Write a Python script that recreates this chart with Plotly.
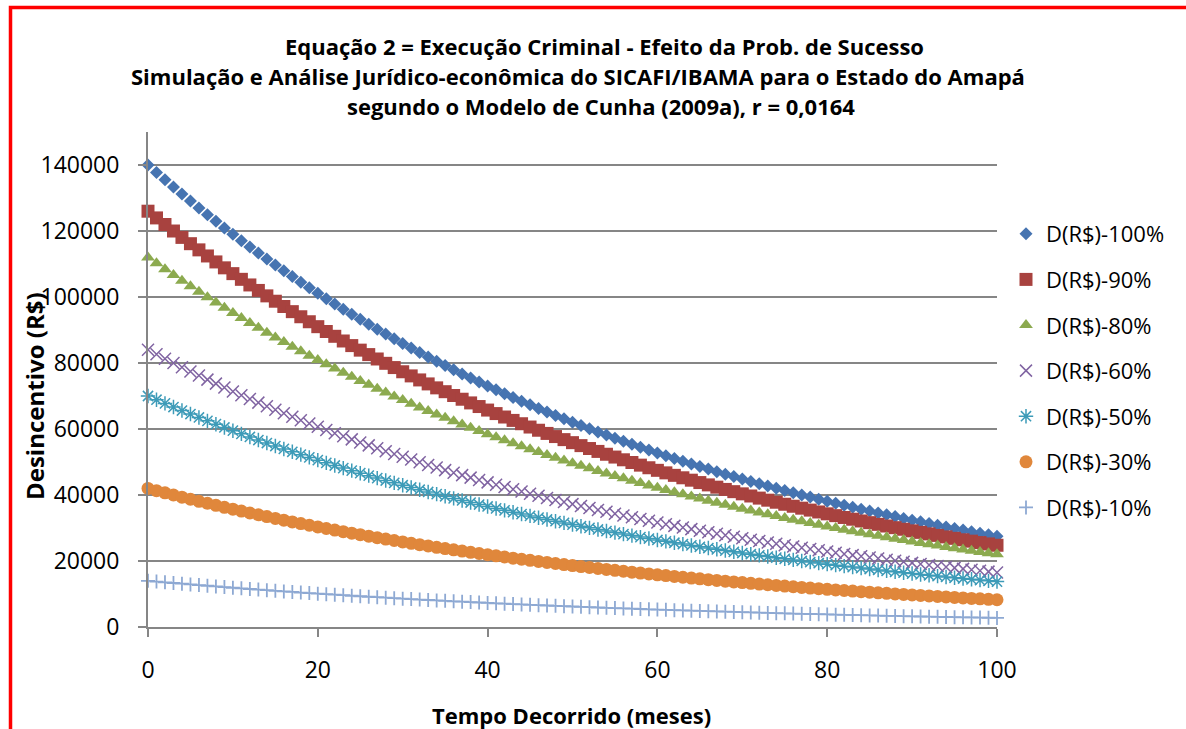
import plotly.graph_objects as go

# ---------------- data ----------------
months = list(range(0, 101))

d100 = [140000, 137740, 135520, 133330, 131180, 129060, 126980, 124930, 122920, 120930,
        118980, 117060, 115170, 113320, 111490, 109690, 107920, 106180, 104460, 102780,
        101120, 99490, 97880, 96300, 94750, 93220, 91720, 90240, 88780, 87350,
        85940, 84550, 83190, 81850, 80520, 79230, 77950, 76690, 75450, 74230,
        73040, 71860, 70700, 69560, 68440, 67330, 66250, 65180, 64120, 63090,
        62070, 61070, 60090, 59120, 58160, 57220, 56300, 55390, 54500, 53620,
        52750, 51900, 51060, 50240, 49430, 48630, 47850, 47080, 46320, 45570,
        44830, 44110, 43400, 42700, 42010, 41330, 40660, 40010, 39360, 38730,
        38100, 37490, 36880, 36290, 35700, 35130, 34560, 34000, 33450, 32910,
        32380, 31860, 31350, 30840, 30340, 29850, 29370, 28900, 28430, 27970,
        27520]

d90 = [126000, 123966, 121968, 119997, 118062, 116154, 114282, 112437, 110628, 108837,
       107082, 105354, 103653, 101988, 100341, 98721, 97128, 95562, 94014, 92502,
       91008, 89541, 88092, 86670, 85275, 83898, 82548, 81216, 79902, 78615,
       77346, 76095, 74871, 73665, 72468, 71307, 70155, 69021, 67905, 66807,
       65736, 64674, 63630, 62604, 61596, 60597, 59625, 58662, 57708, 56781,
       55863, 54963, 54081, 53208, 52344, 51498, 50670, 49851, 49050, 48258,
       47475, 46710, 45954, 45216, 44487, 43767, 43065, 42372, 41688, 41013,
       40347, 39699, 39060, 38430, 37809, 37197, 36594, 36009, 35424, 34857,
       34290, 33741, 33192, 32661, 32130, 31617, 31104, 30600, 30105, 29619,
       29142, 28674, 28215, 27756, 27306, 26865, 26433, 26010, 25587, 25173,
       24768]

d80 = [112000, 110192, 108416, 106664, 104944, 103248, 101584, 99944, 98336, 96744,
       95184, 93648, 92136, 90656, 89192, 87752, 86336, 84944, 83568, 82224,
       80896, 79592, 78304, 77040, 75800, 74576, 73376, 72192, 71024, 69880,
       68752, 67640, 66552, 65480, 64416, 63384, 62360, 61352, 60360, 59384,
       58432, 57488, 56560, 55648, 54752, 53864, 53000, 52144, 51296, 50472,
       49656, 48856, 48072, 47296, 46528, 45776, 45040, 44312, 43600, 42896,
       42200, 41520, 40848, 40192, 39544, 38904, 38280, 37664, 37056, 36456,
       35864, 35288, 34720, 34160, 33608, 33064, 32528, 32008, 31488, 30984,
       30480, 29992, 29504, 29032, 28560, 28104, 27648, 27200, 26760, 26328,
       25904, 25488, 25080, 24672, 24272, 23880, 23496, 23120, 22744, 22376,
       22016]

d60 = [84000, 82644, 81312, 79998, 78708, 77436, 76188, 74958, 73752, 72558,
       71388, 70236, 69102, 67992, 66894, 65814, 64752, 63708, 62676, 61668,
       60672, 59694, 58728, 57780, 56850, 55932, 55032, 54144, 53268, 52410,
       51564, 50730, 49914, 49110, 48312, 47538, 46770, 46014, 45270, 44538,
       43824, 43116, 42420, 41736, 41064, 40398, 39750, 39108, 38472, 37854,
       37242, 36642, 36054, 35472, 34896, 34332, 33780, 33234, 32700, 32172,
       31650, 31140, 30636, 30144, 29658, 29178, 28710, 28248, 27792, 27342,
       26898, 26466, 26040, 25620, 25206, 24798, 24396, 24006, 23616, 23238,
       22860, 22494, 22128, 21774, 21420, 21078, 20736, 20400, 20070, 19746,
       19428, 19116, 18810, 18504, 18204, 17910, 17622, 17340, 17058, 16782,
       16512]

d50 = [70000, 68870, 67760, 66665, 65590, 64530, 63490, 62465, 61460, 60465,
       59490, 58530, 57585, 56660, 55745, 54845, 53960, 53090, 52230, 51390,
       50560, 49745, 48940, 48150, 47375, 46610, 45860, 45120, 44390, 43675,
       42970, 42275, 41595, 40925, 40260, 39615, 38975, 38345, 37725, 37115,
       36520, 35930, 35350, 34780, 34220, 33665, 33125, 32590, 32060, 31545,
       31035, 30535, 30045, 29560, 29080, 28610, 28150, 27695, 27250, 26810,
       26375, 25950, 25530, 25120, 24715, 24315, 23925, 23540, 23160, 22785,
       22415, 22055, 21700, 21350, 21005, 20665, 20330, 20005, 19680, 19365,
       19050, 18745, 18440, 18145, 17850, 17565, 17280, 17000, 16725, 16455,
       16190, 15930, 15675, 15420, 15170, 14925, 14685, 14450, 14215, 13985,
       13760]

d30 = [42000, 41322, 40656, 39999, 39354, 38718, 38094, 37479, 36876, 36279,
       35694, 35118, 34551, 33996, 33447, 32907, 32376, 31854, 31338, 30834,
       30336, 29847, 29364, 28890, 28425, 27966, 27516, 27072, 26634, 26205,
       25782, 25365, 24957, 24555, 24156, 23769, 23385, 23007, 22635, 22269,
       21912, 21558, 21210, 20868, 20532, 20199, 19875, 19554, 19236, 18927,
       18621, 18321, 18027, 17736, 17448, 17166, 16890, 16617, 16350, 16086,
       15825, 15570, 15318, 15072, 14829, 14589, 14355, 14124, 13896, 13671,
       13449, 13233, 13020, 12810, 12603, 12399, 12198, 12003, 11808, 11619,
       11430, 11247, 11064, 10887, 10710, 10539, 10368, 10200, 10035, 9873,
       9714, 9558, 9405, 9252, 9102, 8955, 8811, 8670, 8529, 8391,
       8256]

d10 = [14000, 13774, 13552, 13333, 13118, 12906, 12698, 12493, 12292, 12093,
       11898, 11706, 11517, 11332, 11149, 10969, 10792, 10618, 10446, 10278,
       10112, 9949, 9788, 9630, 9475, 9322, 9172, 9024, 8878, 8735,
       8594, 8455, 8319, 8185, 8052, 7923, 7795, 7669, 7545, 7423,
       7304, 7186, 7070, 6956, 6844, 6733, 6625, 6518, 6412, 6309,
       6207, 6107, 6009, 5912, 5816, 5722, 5630, 5539, 5450, 5362,
       5275, 5190, 5106, 5024, 4943, 4863, 4785, 4708, 4632, 4557,
       4483, 4411, 4340, 4270, 4201, 4133, 4066, 4001, 3936, 3873,
       3810, 3749, 3688, 3629, 3570, 3513, 3456, 3400, 3345, 3291,
       3238, 3186, 3135, 3084, 3034, 2985, 2937, 2890, 2843, 2797,
       2752]

series_names = ["D(R$)-100%", "D(R$)-90%", "D(R$)-80%", "D(R$)-60%",
                "D(R$)-50%", "D(R$)-30%", "D(R$)-10%"]
series_values = [d100, d90, d80, d60, d50, d30, d10]

title_lines = ["Equação 2 = Execução Criminal - Efeito da Prob. de Sucesso",
               "Simulação e Análise Jurídico-econômica do SICAFI/IBAMA para o Estado do Amapá",
               "segundo o Modelo de Cunha (2009a), r = 0,0164"]
x_title = "Tempo Decorrido (meses)"
y_title = "Desincentivo (R$)"

# ---------------- styles ----------------
W, H = 1186, 729
ML, MR, MT, MB = 148, 189, 132, 102
PW, PH = W - ML - MR, H - MT - MB

def px_x(p):
    return (p - ML) / PW

def px_y(p):
    return (H - MB - p) / PH

FONT = "Open Sans"
styles = [
    dict(symbol="diamond", size=10, color="#4674B1", line=dict(width=0)),
    dict(symbol="square", size=13, color="#A8423F", line=dict(width=0)),
    dict(symbol="triangle-up", size=12, color="#8CAA4F", line=dict(width=0)),
    dict(symbol="x-thin-open", size=12, color="#8064A2", line=dict(width=1.5, color="#8064A2")),
    dict(symbol="asterisk-open", size=12, color="#3D9BB8", line=dict(width=1.5, color="#3D9BB8")),
    dict(symbol="circle", size=13, color="#E0873B", line=dict(width=0)),
    dict(symbol="cross-thin-open", size=10, color="#8EA9D3", line=dict(width=1.8, color="#8EA9D3")),
]

fig = go.Figure()
for i, (name, vals) in enumerate(zip(series_names, series_values)):
    fig.add_trace(go.Scatter(
        x=months, y=vals, name=name, mode="markers",
        marker=styles[i], cliponaxis=False, legendgroup=name,
    ))

axis_color = "#868686"
fig.update_layout(
    width=W, height=H,
    margin=dict(l=ML, r=MR, t=MT, b=MB),
    paper_bgcolor="white", plot_bgcolor="white",
    font=dict(family=FONT, color="black"),
    showlegend=True,
    legend=dict(x=px_x(1006), y=px_y(213), xanchor="left", yanchor="top",
                font=dict(family=FONT, size=22, color="black"),
                tracegroupgap=14, itemwidth=30, bgcolor="rgba(0,0,0,0)"),
    xaxis=dict(range=[0, 100], dtick=20, tick0=0, showgrid=False, zeroline=False,
               showline=True, linecolor=axis_color, linewidth=2,
               ticks="outside", ticklen=8, tickwidth=2, tickcolor=axis_color,
               tickfont=dict(family=FONT, size=23, color="black"),
               ticklabelstandoff=13),
    yaxis=dict(range=[0, 150000], dtick=20000, tick0=0, showgrid=True,
               gridcolor=axis_color, gridwidth=1.6, zeroline=False,
               showline=True, linecolor=axis_color, linewidth=2,
               ticks="outside", ticklen=8, tickwidth=2, tickcolor=axis_color,
               tickformat="d",
               tickfont=dict(family=FONT, size=23, color="black"),
               ticklabelstandoff=14),
)

annotations = []
for text, cx, cy in zip(title_lines, [604, 578, 601], [46, 76, 106]):
    annotations.append(dict(text="<b>%s</b>" % text, x=px_x(cx), y=px_y(cy),
                            xref="paper", yref="paper", showarrow=False,
                            xanchor="center", yanchor="middle",
                            font=dict(family=FONT, size=22, color="black")))
annotations.append(dict(text="<b>%s</b>" % x_title, x=px_x(571), y=px_y(715),
                        xref="paper", yref="paper", showarrow=False,
                        xanchor="center", yanchor="middle",
                        font=dict(family=FONT, size=22, color="black")))
annotations.append(dict(text="<b>%s</b>" % y_title, x=px_x(34), y=px_y(396),
                        xref="paper", yref="paper", showarrow=False, textangle=-90,
                        xanchor="center", yanchor="middle",
                        font=dict(family=FONT, size=24, color="black")))
fig.update_layout(annotations=annotations)

# red frame (left and top edges)
fig.add_shape(type="path", xref="paper", yref="paper",
              path="M %f %f L %f %f L %f %f" % (px_x(10.5), px_y(H + 5), px_x(10.5), px_y(7.5),
                                                 px_x(W + 5), px_y(7.5)),
              line=dict(color="#FF0000", width=3.5), layer="above")

fig.write_html("out.html")
